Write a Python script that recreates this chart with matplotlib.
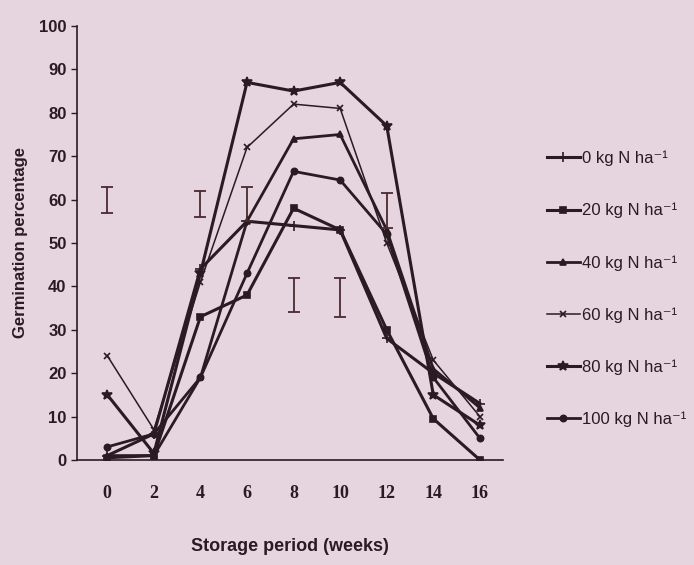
import matplotlib
matplotlib.use("Agg")
import matplotlib.pyplot as plt

weeks = [0, 2, 4, 6, 8, 10, 12, 14, 16]
labels = ["0 kg N ha⁻¹", "20 kg N ha⁻¹", "40 kg N ha⁻¹",
          "60 kg N ha⁻¹", "80 kg N ha⁻¹", "100 kg N ha⁻¹"]
n0 = [1, 6, 44, 55, 54, 53, 28, 20, 13]
n20 = [0.5, 1, 33, 38, 58, 53, 30, 9.5, 0]
n40 = [1, 1, 19, 55, 74, 75, 53, 21, 12]
n60 = [24, 7, 41, 72, 82, 81, 50, 23, 10]
n80 = [15, 1.5, 43, 87, 85, 87, 77, 15, 8]
n100 = [3, 6, 19, 43, 66.5, 64.5, 52, 19, 5]

# LSD error bars: week, centre, half-length
err_weeks = [0, 4, 6, 8, 10, 12]
err_centre = [60, 59, 59, 38, 37.5, 57.5]
err_half = [3, 3, 4, 4, 4.5, 4]

bg = "#e6d4de"
ink = "#2a1a22"

fig = plt.figure(figsize=(6.94, 5.65), dpi=100, facecolor=bg)
ax = fig.add_axes([0.111, 0.186, 0.614, 0.768], facecolor=bg)

series = [n0, n20, n40, n60, n80, n100]
markers = ["+", "s", "^", "x", "*", "o"]
widths = [2.2, 2.2, 2.0, 1.1, 2.2, 2.0]
msizes = [7, 5, 5, 5, 7, 4.5]
for vals, lab, m, lw, ms in zip(series, labels, markers, widths, msizes):
    ax.plot(weeks, vals, color=ink, lw=lw, marker=m, ms=ms, mew=1.2,
            label=lab)

ax.errorbar(err_weeks, err_centre, yerr=err_half, fmt="none",
            ecolor="#4a2a30", elinewidth=1.3, capsize=4, capthick=1.3)

ax.set_xlim(-1.3, 17.0)
ax.set_ylim(0, 100)
ax.set_xticks(weeks)
ax.set_yticks(range(0, 101, 10))
for s in ["top", "right"]:
    ax.spines[s].set_visible(False)
for s in ["left", "bottom"]:
    ax.spines[s].set_color(ink)
    ax.spines[s].set_linewidth(1.2)
ax.tick_params(axis="x", length=0, pad=18, colors=ink)
ax.tick_params(axis="y", length=4, width=1, colors=ink)
for t in ax.get_xticklabels():
    t.set_fontfamily("Liberation Serif")
    t.set_fontweight("bold")
    t.set_fontsize(13)
for t in ax.get_yticklabels():
    t.set_fontfamily("Liberation Sans")
    t.set_fontweight("bold")
    t.set_fontsize(12)

ax.set_xlabel("Storage period (weeks)", fontfamily="Liberation Sans",
              fontweight="bold", fontsize=13, color=ink, labelpad=26)
ax.set_ylabel("Germination percentage", fontfamily="Liberation Sans",
              fontweight="bold", fontsize=12, color=ink, labelpad=8)

leg = fig.legend(loc="upper left", bbox_to_anchor=(0.778, 0.745),
                 frameon=False, labelspacing=2.2, handlelength=2.0,
                 handletextpad=0.15, borderaxespad=0,
                 prop={"family": ["Liberation Sans", "DejaVu Sans"],
                       "size": 12})
for t in leg.get_texts():
    t.set_color(ink)

fig.savefig("out.png", dpi=100, facecolor=bg)
